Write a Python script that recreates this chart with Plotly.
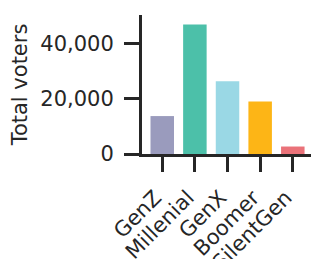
import plotly.graph_objects as go

categories = ["GenZ", "Millenial", "GenX", "Boomer", "SilentGen"]
voters = [13700, 46800, 26300, 19000, 2700]
colors = ["#9a9bbd", "#4cc0a9", "#9ad8e5", "#fdb516", "#ea7279"]
y_ticks = [0, 20000, 40000]
y_tick_labels = ["0", "20,000", "40,000"]

fig = go.Figure(go.Bar(
    x=categories, y=voters, marker=dict(color=colors, line=dict(width=0)),
))

font_color = "#262626"
fig.update_layout(
    width=319, height=259,
    margin=dict(l=134, r=12, t=7, b=113),
    paper_bgcolor="white", plot_bgcolor="white",
    bargap=0.28,
    showlegend=False,
    font=dict(family="DejaVu Sans", size=21, color=font_color),
)
fig.update_xaxes(
    range=[-0.62, 4.68], automargin=False,
    showline=True, linecolor="#262626", linewidth=3,
    ticks="outside", ticklen=15, tickwidth=3, tickcolor="#262626",
    tickangle=-45, showgrid=False, zeroline=False,
    ticklabelshift=-7, ticklabelstandoff=5,
    tickfont=dict(family="DejaVu Sans", size=21, color=font_color),
)
fig.update_yaxes(
    range=[0, 50200], automargin=False,
    tickvals=y_ticks, ticktext=y_tick_labels,
    showline=True, linecolor="#262626", linewidth=3,
    ticks="outside", ticklen=15, tickwidth=3, tickcolor="#262626",
    showgrid=False, zeroline=False,
    ticklabelstandoff=6,
    title=dict(text="Total voters", font=dict(family="DejaVu Sans", size=21, color=font_color), standoff=8),
    tickfont=dict(family="DejaVu Sans", size=21, color=font_color),
)

fig.write_html("out.html")
